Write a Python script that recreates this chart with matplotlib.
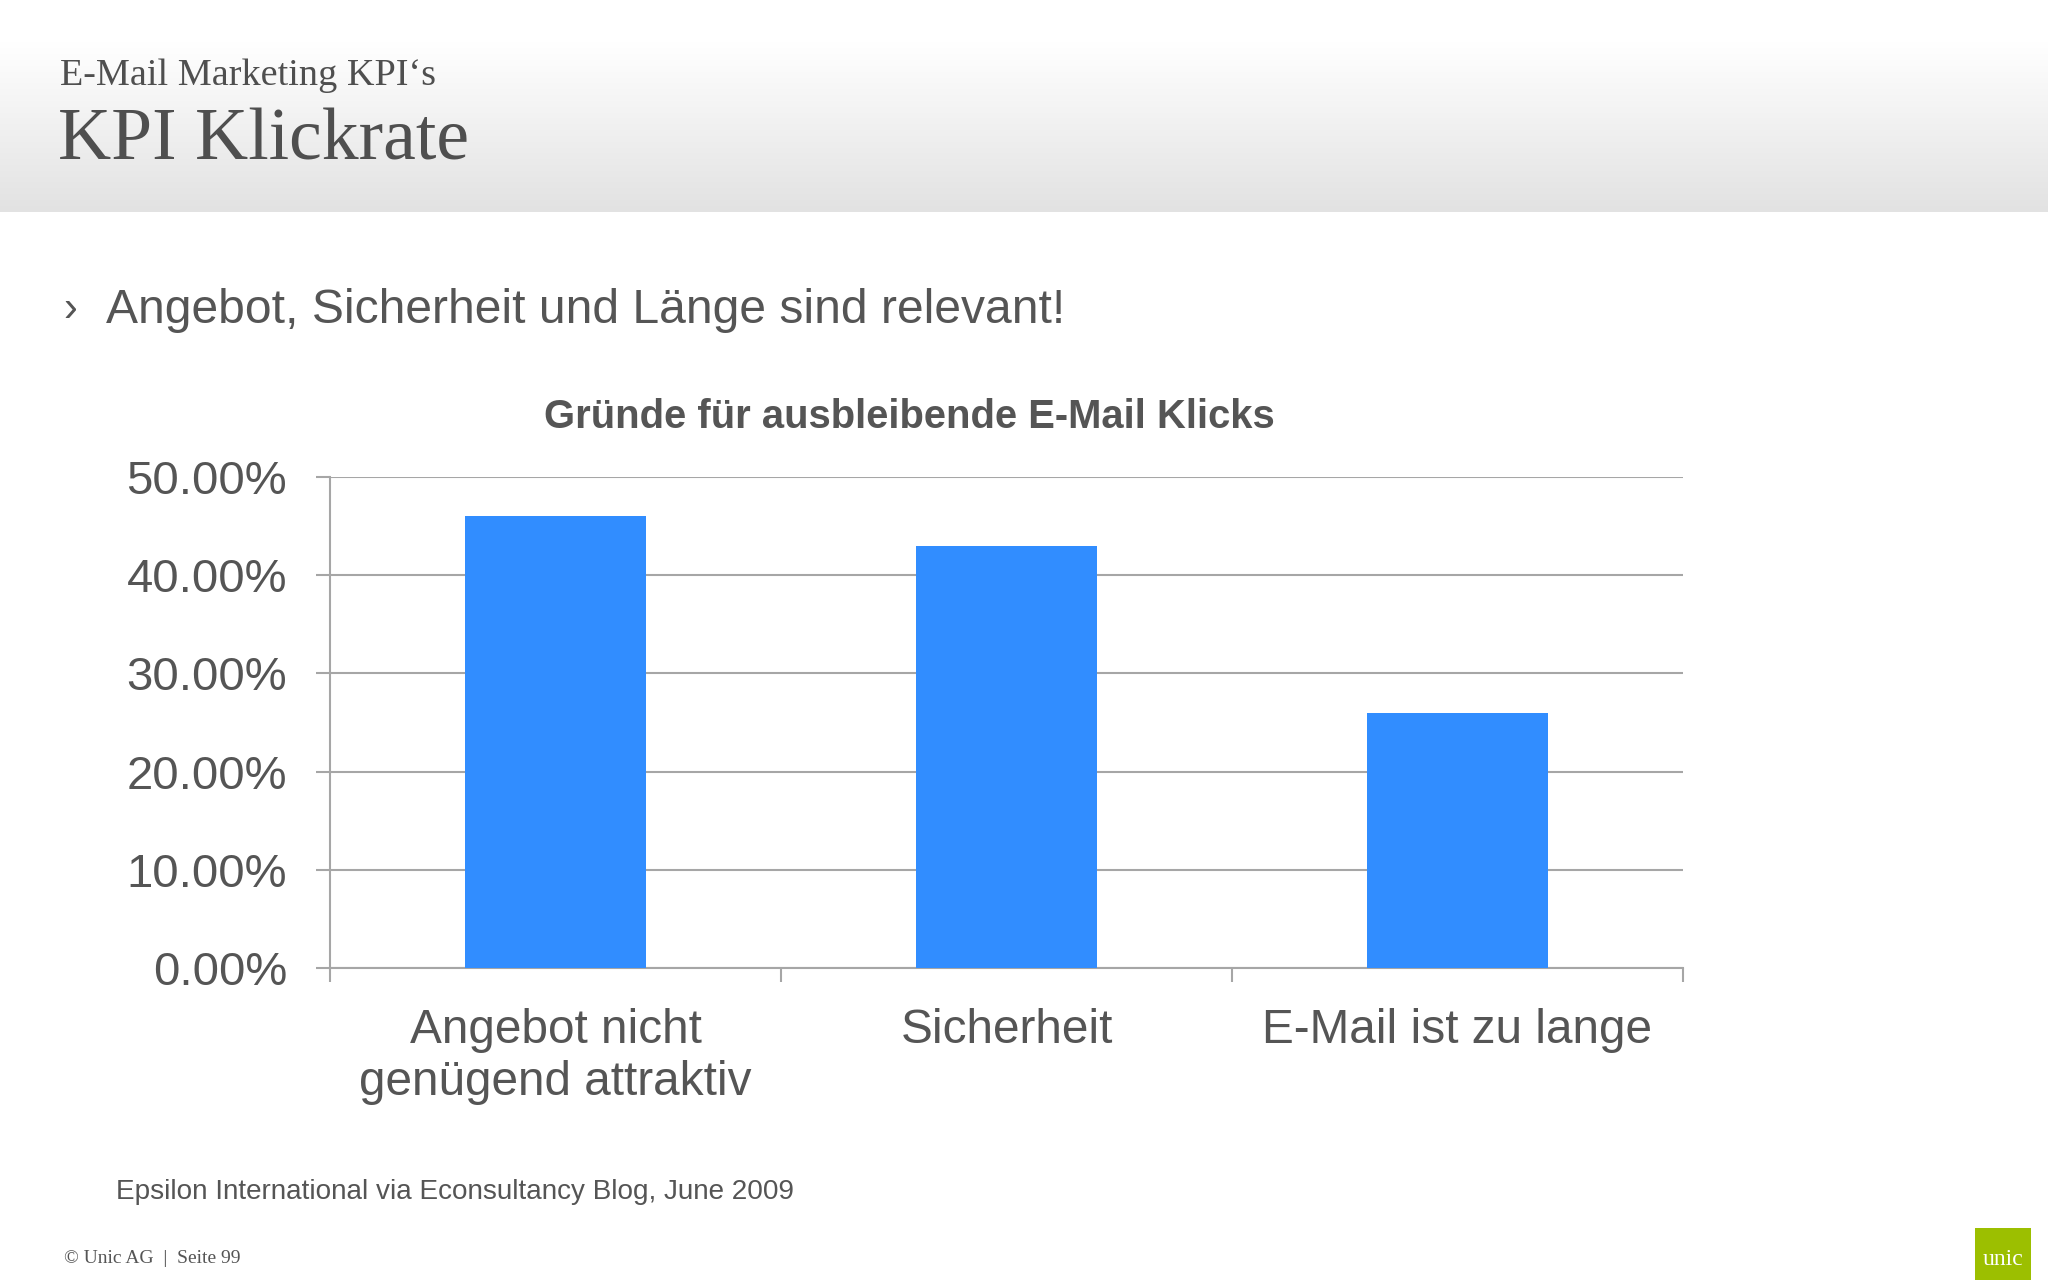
import numpy as np
import matplotlib.pyplot as plt
from matplotlib.ticker import FuncFormatter

# data
categories = ["Angebot nicht\ngenügend attraktiv", "Sicherheit", "E-Mail ist zu lange"]
shares = [0.46, 0.43, 0.26]
y_ticks = [0.0, 0.1, 0.2, 0.3, 0.4, 0.5]

W, H = 2048, 1280
TEXT = "#555555"
GRID = "#a6a6a6"
BLUE = "#318dff"
SANS = "Liberation Sans"
SERIF = "Liberation Serif"


def fx(px):
    return px / W


def fy(py):
    return 1 - py / H


fig = plt.figure(figsize=(W / 100, H / 100), dpi=100)
fig.patch.set_facecolor("white")

# header band with grey gradient (white at top, light grey at the bottom)
hdr = fig.add_axes([0, fy(212), 1, 212 / H], zorder=0)
grad = np.linspace(0, 1, 256)
grad = np.clip((grad - 0.2) / 0.8, 0, 1)
shade = 1 - grad * (1 - 0xe2 / 255)
img = np.tile(shade[:, None, None], (1, 4, 3))
hdr.imshow(img, aspect="auto", extent=[0, 1, 0, 1], interpolation="bilinear")
hdr.set_axis_off()

fig.text(fx(60), fy(85), "E-Mail Marketing KPI‘s", family=SERIF, fontsize=27.5,
         color="#4f4f4f", va="baseline", zorder=5)
fig.text(fx(58), fy(159), "KPI Klickrate", family=SERIF, fontsize=53,
         color="#4f4f4f", va="baseline", zorder=5)

fig.text(fx(63), fy(321), "›", family=SANS, fontsize=30, color=TEXT, va="baseline")
fig.text(fx(106), fy(323), "Angebot, Sicherheit und Länge sind relevant!",
         family=SANS, fontsize=34.6, color=TEXT, va="baseline")

fig.text(fx(909), fy(428), "Gründe für ausbleibende E-Mail Klicks", family=SANS,
         fontsize=28.8, fontweight="bold", color=TEXT, ha="center", va="baseline")

# bar chart
ax = fig.add_axes([fx(330), fy(968), (1683 - 330) / W, (968 - 477) / H])
x = np.arange(len(categories))
ax.bar(x, shares, width=0.4, color=BLUE, zorder=3)
ax.set_xlim(-0.5, len(categories) - 0.5)
ax.set_ylim(0, 0.5)
ax.set_yticks(y_ticks)
ax.yaxis.set_major_formatter(FuncFormatter(lambda v, _: f"{v * 100:.2f}%"))
ax.yaxis.grid(True, color=GRID, linewidth=1.5, zorder=0)
ax.set_xticks(np.arange(len(categories) + 1) - 0.5)
ax.set_xticklabels([])
ax.set_xticks(x, minor=True)
ax.set_xticklabels(categories, minor=True)
ax.tick_params(axis="x", which="major", length=10, width=1.5, color=GRID, direction="out")
ax.tick_params(axis="x", which="minor", length=0, pad=29, labelsize=34.4, labelcolor=TEXT)
ax.tick_params(axis="y", length=10, width=1.5, color=GRID, pad=21, labelsize=34, labelcolor=TEXT)
for lab in ax.get_xticklabels(minor=True) + ax.get_yticklabels():
    lab.set_family(SANS)
for side in ("top", "right"):
    ax.spines[side].set_visible(False)
for side in ("left", "bottom"):
    ax.spines[side].set_color(GRID)
    ax.spines[side].set_linewidth(1.5)

fig.text(fx(116), fy(1199), "Epsilon International via Econsultancy Blog, June 2009",
         family=SANS, fontsize=20.1, color=TEXT, va="baseline")
fig.text(fx(64), fy(1263), "© Unic AG  |  Seite 99", family=SERIF, fontsize=14,
         color=TEXT, va="baseline")

# logo
logo = fig.add_axes([fx(1975), 0, (2031 - 1975) / W, (1280 - 1228) / H])
logo.set_facecolor("#9cbf00")
logo.set_xticks([])
logo.set_yticks([])
for s in logo.spines.values():
    s.set_visible(False)
logo.text(0.5, 0.4, "unic", family=SERIF, fontsize=17, color="white",
          ha="center", va="center", transform=logo.transAxes)

fig.savefig("out.png", dpi=100)
